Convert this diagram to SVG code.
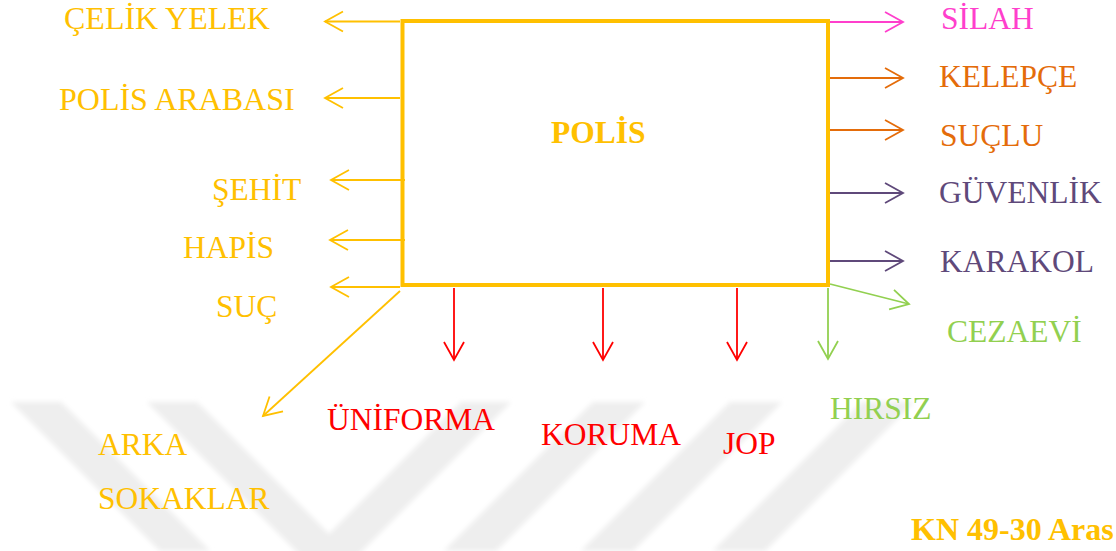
<svg xmlns="http://www.w3.org/2000/svg" width="1116" height="551" viewBox="0 0 1116 551">
<style>
text{font-family:"Liberation Serif","Times New Roman",serif;font-size:31.5px}
.y{fill:#FFC000}.p{fill:#FF3FCC}.o{fill:#E46C0A}.v{fill:#5F497A}.g{fill:#92D050}.r{fill:#FF0000}
.b{font-weight:bold}
.w{font-size:32px}
.ly{stroke:#FFC000;stroke-width:1.8;fill:none;marker-end:url(#mY)}
.lp{stroke:#FF3FCC;stroke-width:1.8;fill:none;marker-end:url(#mP)}
.lo{stroke:#E46C0A;stroke-width:1.8;fill:none;marker-end:url(#mO)}
.lv{stroke:#5F497A;stroke-width:1.8;fill:none;marker-end:url(#mV)}
.lg{stroke:#92D050;stroke-width:1.8;fill:none;marker-end:url(#mG)}
.lr{stroke:#FF0000;stroke-width:1.8;fill:none;marker-end:url(#mR)}
.wm{fill:#eeeeee}
</style>
<defs>
<filter id="soft" x="-5%" y="-5%" width="110%" height="110%"><feGaussianBlur stdDeviation="2.5"/></filter>
<marker id="mY" viewBox="-20 -12 24 24" refX="0" refY="0" markerWidth="24" markerHeight="24" markerUnits="userSpaceOnUse" orient="auto"><path d="M-18,-10 L0,0 L-18,10" fill="none" stroke="#FFC000" stroke-width="1.8"/></marker>
<marker id="mP" viewBox="-20 -12 24 24" refX="0" refY="0" markerWidth="24" markerHeight="24" markerUnits="userSpaceOnUse" orient="auto"><path d="M-18,-10 L0,0 L-18,10" fill="none" stroke="#FF3FCC" stroke-width="1.8"/></marker>
<marker id="mO" viewBox="-20 -12 24 24" refX="0" refY="0" markerWidth="24" markerHeight="24" markerUnits="userSpaceOnUse" orient="auto"><path d="M-18,-10 L0,0 L-18,10" fill="none" stroke="#E46C0A" stroke-width="1.8"/></marker>
<marker id="mV" viewBox="-20 -12 24 24" refX="0" refY="0" markerWidth="24" markerHeight="24" markerUnits="userSpaceOnUse" orient="auto"><path d="M-18,-10 L0,0 L-18,10" fill="none" stroke="#5F497A" stroke-width="1.8"/></marker>
<marker id="mG" viewBox="-20 -12 24 24" refX="0" refY="0" markerWidth="24" markerHeight="24" markerUnits="userSpaceOnUse" orient="auto"><path d="M-18,-10 L0,0 L-18,10" fill="none" stroke="#92D050" stroke-width="1.8"/></marker>
<marker id="mR" viewBox="-20 -12 24 24" refX="0" refY="0" markerWidth="24" markerHeight="24" markerUnits="userSpaceOnUse" orient="auto"><path d="M-18,-10 L0,0 L-18,10" fill="none" stroke="#FF0000" stroke-width="1.8"/></marker>
</defs>
<rect width="1116" height="551" fill="#ffffff"/>
<g id="watermark" filter="url(#soft)">
<polygon class="wm" points="11,402 61,402 210,551 160,551"/>
<polygon class="wm" points="147,402 197,402 329,534 461,402 511,402 329,584"/>
<polygon class="wm" points="593,402 645,402 496,551 444,551"/>
<polygon class="wm" points="730,402 782,402 633,551 581,551"/>
<polygon class="wm" points="862,402 914,402 765,551 713,551"/>
</g>
<g id="connectors">
<line class="ly" x1="400" y1="21.5" x2="325" y2="21.5"/>
<line class="ly" x1="400" y1="98" x2="325" y2="98"/>
<line class="ly" x1="405" y1="180" x2="331" y2="180"/>
<line class="ly" x1="405" y1="240" x2="330" y2="240"/>
<line class="ly" x1="400" y1="287" x2="331" y2="287"/>
<line class="ly" x1="400" y1="291" x2="263" y2="416"/>
<line class="lp" x1="830" y1="22" x2="903" y2="22"/>
<line class="lo" x1="830" y1="78" x2="903" y2="78"/>
<line class="lo" x1="830" y1="130" x2="903" y2="130"/>
<line class="lv" x1="830" y1="193" x2="903" y2="193"/>
<line class="lv" x1="830" y1="261" x2="903" y2="261"/>
<line class="lg" x1="830" y1="284" x2="909" y2="304"/>
<line class="lg" x1="828" y1="288" x2="828" y2="359"/>
<line class="lr" x1="454" y1="288" x2="454" y2="360"/>
<line class="lr" x1="603" y1="288" x2="603" y2="360"/>
<line class="lr" x1="737" y1="288" x2="737" y2="360"/>
</g>
<g id="polis">
<rect x="402.5" y="21" width="425.5" height="264" fill="none" stroke="#FFC000" stroke-width="4"/>
<text class="y b" x="551" y="143">POLİS</text>
</g>
<g id="celik-yelek"><text class="y w" x="64" y="29">ÇELİK YELEK</text></g>
<g id="polis-arabasi"><text class="y w" x="59" y="110">POLİS ARABASI</text></g>
<g id="sehit"><text class="y" x="212" y="200">ŞEHİT</text></g>
<g id="hapis"><text class="y" x="183" y="258">HAPİS</text></g>
<g id="suc"><text class="y" x="216" y="317">SUÇ</text></g>
<g id="arka-sokaklar"><text class="y" x="98" y="455">ARKA</text><text class="y" x="98" y="509">SOKAKLAR</text></g>
<g id="silah"><text class="p" x="941" y="29">SİLAH</text></g>
<g id="kelepce"><text class="o" x="939" y="87">KELEPÇE</text></g>
<g id="suclu"><text class="o" x="940" y="146">SUÇLU</text></g>
<g id="guvenlik"><text class="v" x="939" y="203">GÜVENLİK</text></g>
<g id="karakol"><text class="v" x="940" y="272">KARAKOL</text></g>
<g id="cezaevi"><text class="g" x="947" y="342">CEZAEVİ</text></g>
<g id="hirsiz"><text class="g" x="830" y="419">HIRSIZ</text></g>
<g id="uniforma"><text class="r" x="327" y="430">ÜNİFORMA</text></g>
<g id="koruma"><text class="r" x="541" y="445">KORUMA</text></g>
<g id="jop"><text class="r" x="723" y="454">JOP</text></g>
<g id="caption"><text class="y b" x="911" y="540" style="font-size:32px">KN 49-30 Aras</text></g>
</svg>
